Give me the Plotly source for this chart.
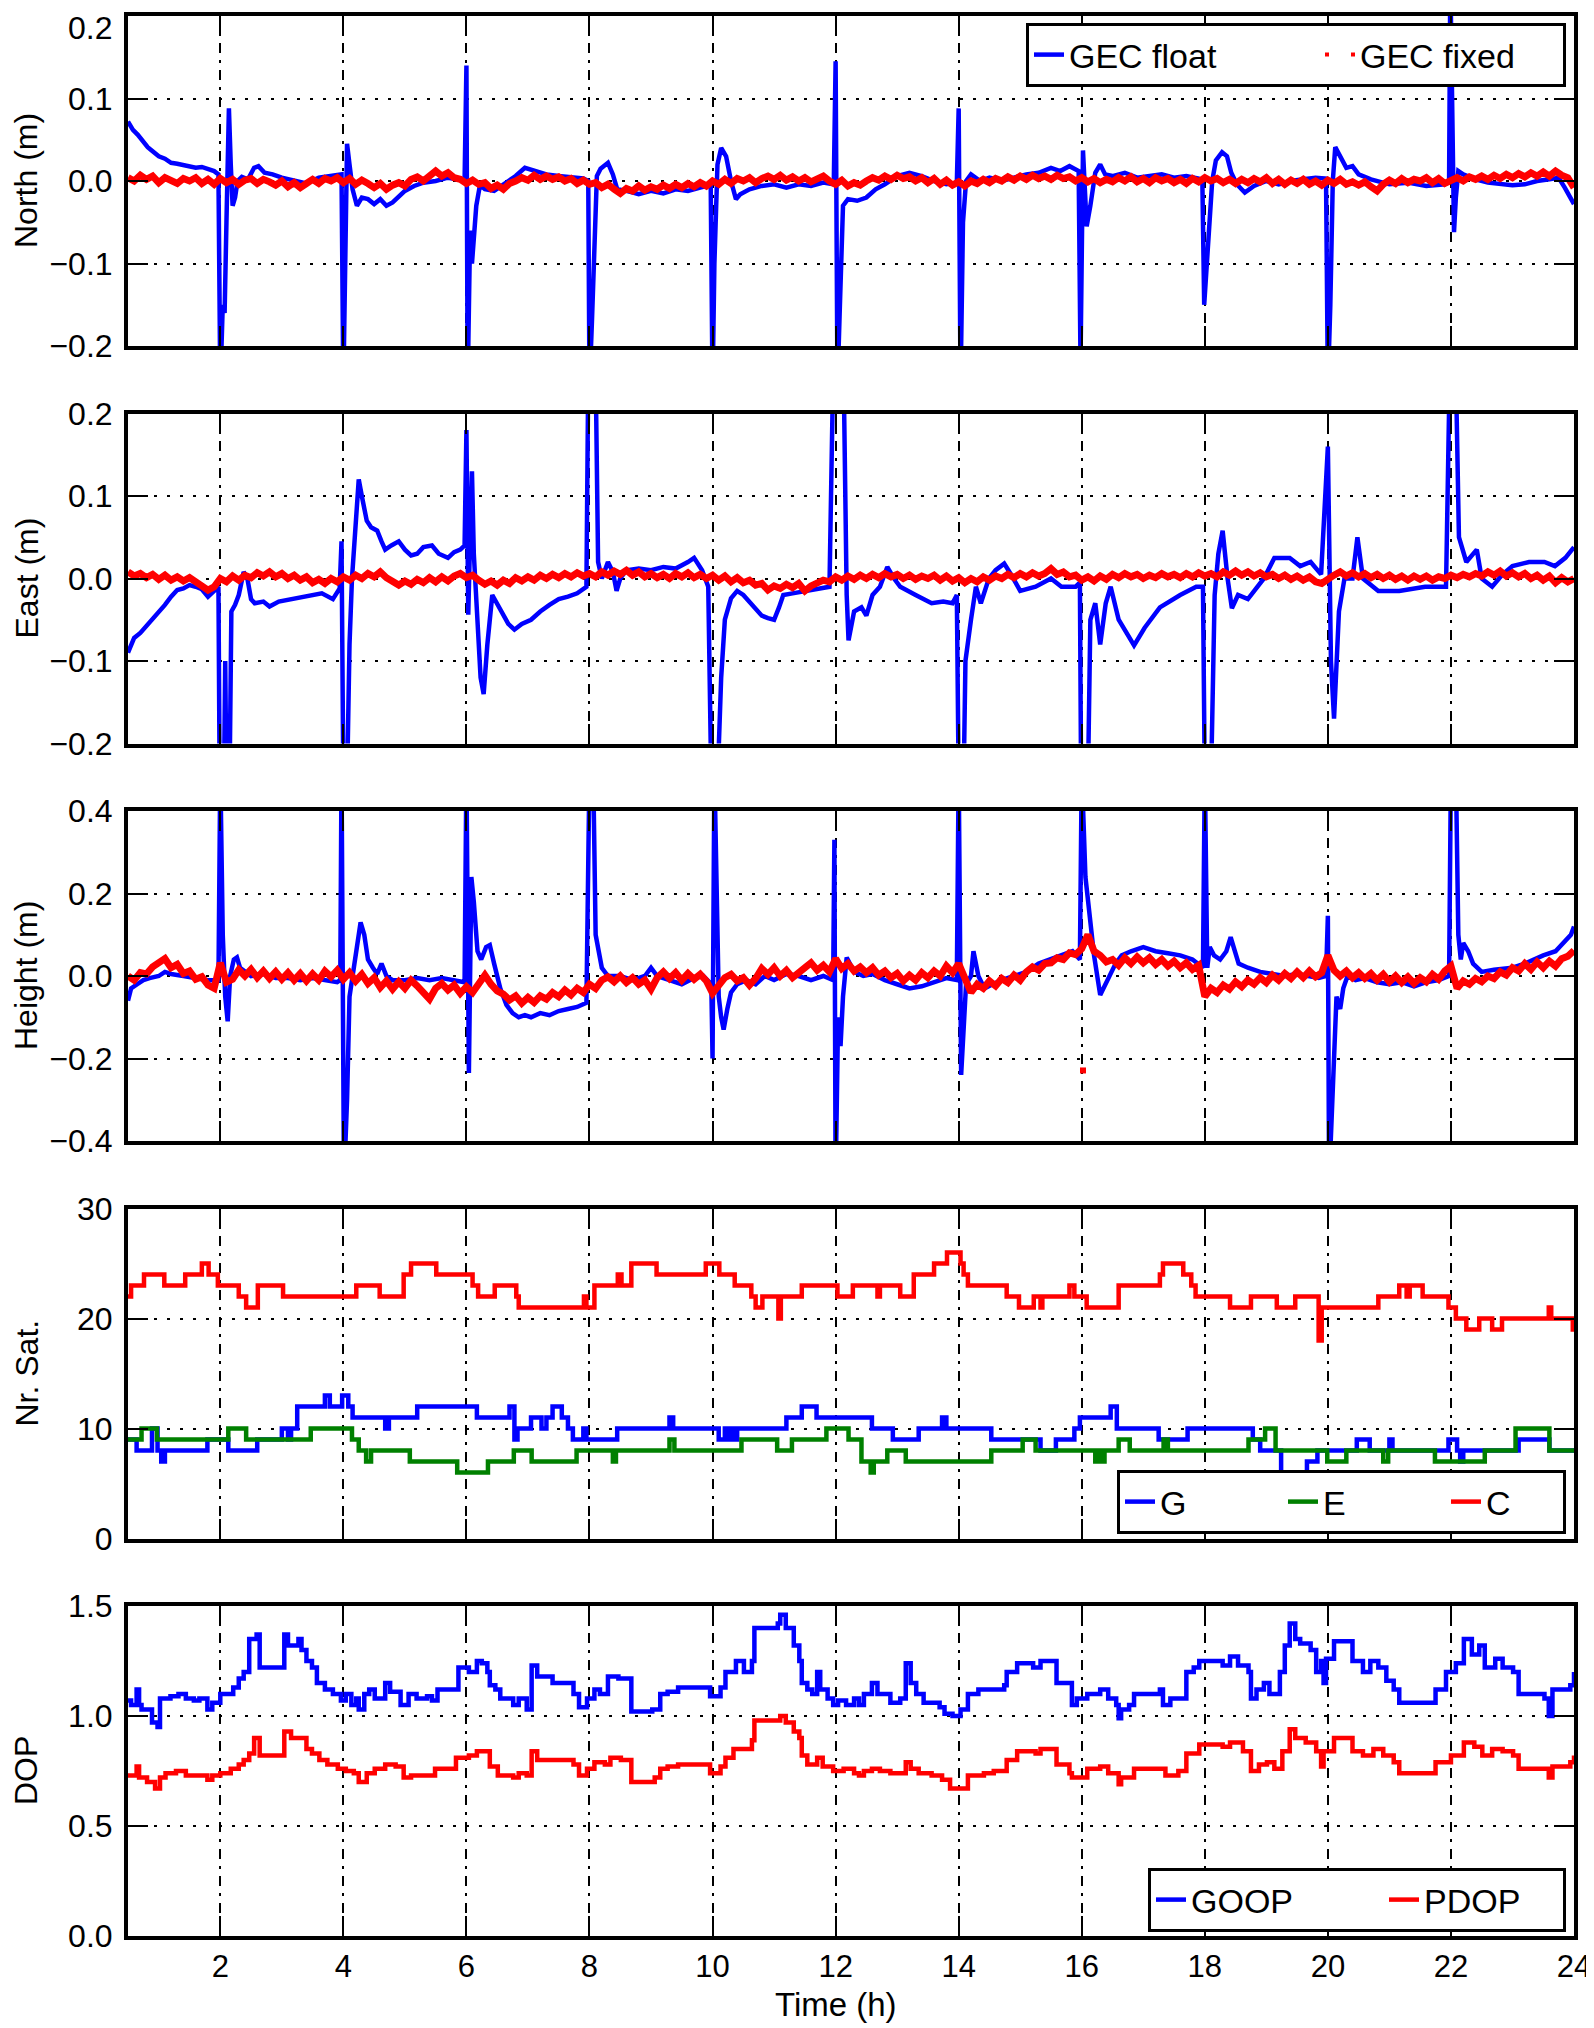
import numpy as np
import plotly.graph_objects as go

FONT = "Liberation Sans, Arial, Helvetica, sans-serif"
# the page body adds an 8 px margin; the figure is sized so that it ends at the window edge
OFF = 8
W, H = 1594 - OFF, 2028 - OFF
ML, MR, MT, MB = 128 - OFF, 20, 16 - OFF, 92

# ---------------- time axis ----------------
X_RANGE = [0.5, 24]
X_TICKS = [2, 4, 6, 8, 10, 12, 14, 16, 18, 20, 22, 24]

# fixed solutions are sampled every 0.1 h from 0.5 h
FIX_T0, FIX_DT, FIX_N = 0.5, 0.1, 236
fix_time = np.round(FIX_T0 + FIX_DT * np.arange(FIX_N), 2)

# ---------------- North (m) ----------------
NORTH_FLOAT = [
 (0.5,0.072),(0.58,0.062),(0.66,0.056),(0.74,0.048),(0.82,0.041),(0.9,0.036),(1.0,0.03),(1.1,0.027),(1.2,0.022),(1.3,0.021),(1.4,0.019),(1.5,0.018),(1.6,0.016),(1.7,0.017),(1.8,0.014),(1.9,0.012),(1.97,0.008),
 (2.0,-0.25),(2.04,-0.15),(2.07,-0.16),(2.1,-0.05),(2.14,0.088),(2.17,0.02),(2.2,-0.03),(2.24,-0.02),(2.28,0.0),(2.35,0.005),(2.45,0.002),(2.55,0.016),(2.62,0.018),(2.72,0.01),(2.85,0.008),(3.0,0.004),(3.2,0.0),(3.4,-0.003),(3.6,0.004),(3.8,0.006),(3.97,0.008),
 (4.0,-0.25),(4.03,-0.1),(4.06,0.045),(4.1,0.02),(4.15,-0.01),(4.22,-0.03),(4.3,-0.02),(4.4,-0.022),(4.5,-0.028),(4.6,-0.022),(4.7,-0.03),(4.8,-0.026),(4.9,-0.018),(5.0,-0.012),(5.15,-0.006),(5.3,-0.002),(5.5,0.0),(5.7,0.004),(5.85,0.002),(5.97,0.0),
 (6.0,0.14),(6.02,-0.25),(6.06,-0.06),(6.09,-0.1),(6.12,-0.07),(6.16,-0.03),(6.22,-0.005),(6.3,-0.01),(6.45,-0.012),(6.6,-0.004),(6.8,0.006),(6.95,0.016),(7.1,0.012),(7.3,0.008),(7.5,0.006),(7.7,0.004),(7.9,0.003),(7.98,0.0),
 (8.0,-0.25),(8.04,-0.17),(8.08,-0.06),(8.12,0.006),(8.18,0.015),(8.3,0.022),(8.38,0.008),(8.45,-0.01),(8.6,-0.012),(8.8,-0.016),(9.0,-0.012),(9.2,-0.015),(9.4,-0.01),(9.6,-0.012),(9.8,-0.008),(9.97,-0.005),
 (10.0,-0.25),(10.03,-0.1),(10.08,0.02),(10.14,0.04),(10.22,0.03),(10.3,0.0),(10.38,-0.022),(10.45,-0.016),(10.6,-0.01),(10.8,-0.006),(11.0,-0.004),(11.2,-0.008),(11.4,-0.004),(11.6,-0.006),(11.8,-0.002),(11.97,-0.004),
 (12.0,0.145),(12.03,-0.25),(12.07,-0.15),(12.12,-0.03),(12.2,-0.022),(12.35,-0.024),(12.5,-0.02),(12.65,-0.01),(12.8,-0.004),(13.0,0.006),(13.2,0.01),(13.4,0.006),(13.6,0.0),(13.8,-0.004),(13.97,-0.002),
 (14.0,0.088),(14.03,-0.25),(14.07,-0.05),(14.12,0.0),(14.2,0.008),(14.35,0.0),(14.5,0.004),(14.7,0.0),(14.9,0.004),(15.1,0.008),(15.3,0.01),(15.5,0.016),(15.65,0.012),(15.8,0.018),(15.95,0.012),
 (15.98,-0.22),(16.02,0.037),(16.05,-0.02),(16.08,-0.055),(16.14,-0.03),(16.22,0.01),(16.3,0.02),(16.38,0.008),(16.5,0.006),(16.7,0.01),(16.9,0.004),(17.1,0.006),(17.3,0.008),(17.5,0.004),(17.7,0.006),(17.9,0.003),(17.96,0.0),
 (17.99,-0.15),(18.03,-0.1),(18.07,-0.04),(18.12,0.0),(18.18,0.025),(18.28,0.035),(18.36,0.03),(18.43,0.01),(18.52,-0.004),(18.65,-0.014),(18.8,-0.006),(19.0,0.0),(19.2,-0.004),(19.4,0.0),(19.6,0.002),(19.8,0.004),(19.97,0.003),
 (20.0,-0.25),(20.04,-0.15),(20.08,0.0),(20.12,0.041),(20.2,0.03),(20.3,0.016),(20.4,0.018),(20.5,0.008),(20.7,0.002),(21.0,-0.004),(21.3,-0.002),(21.6,-0.006),(21.9,-0.004),(21.97,0.0),
 (21.99,0.25),(22.02,0.1),(22.05,-0.062),(22.08,-0.02),(22.12,0.012),(22.2,0.008),(22.4,0.002),(22.6,-0.002),(22.8,-0.004),(23.0,-0.005),(23.2,-0.004),(23.4,0.0),(23.6,0.002),(23.75,0.004),(23.85,-0.008),(23.95,-0.02),(24.0,-0.028),
]
NORTH_FIXED = [
 0.004, 0.000, 0.007, 0.002, 0.006, -0.002, 0.004, 0.001, -0.003, 0.003,
 0.000, 0.004, -0.003, 0.002, -0.004, 0.003, -0.002, 0.002, -0.004, 0.001,
 0.003, -0.003, 0.002, -0.001, -0.005, 0.000, -0.007, -0.002, -0.008, -0.003,
 0.002, -0.003, 0.003, 0.000, 0.004, -0.002, 0.003, -0.004, 0.001, -0.003,
 -0.008, -0.003, -0.010, -0.005, -0.002, -0.006, 0.002, 0.005, 0.000, 0.006,
 0.012, 0.006, 0.010, 0.004, 0.002, -0.003, 0.001, -0.004, -0.002, -0.009,
 -0.005, -0.010, -0.003, 0.000, 0.004, 0.001, 0.007, 0.002, 0.006, 0.002,
 0.005, 0.000, 0.003, -0.003, 0.001, -0.004, -0.002, -0.008, -0.004, -0.010,
 -0.015, -0.009, -0.012, -0.006, -0.011, -0.007, -0.010, -0.005, -0.009, -0.004,
 -0.008, -0.003, -0.007, -0.002, -0.006, 0.000, -0.004, 0.002, -0.003, 0.003,
 0.000, 0.004, -0.002, 0.003, 0.006, 0.002, 0.007, 0.001, 0.005, 0.000,
 0.004, -0.001, 0.003, 0.006, 0.000, -0.004, 0.001, -0.006, -0.002, -0.005,
 0.000, 0.004, 0.001, 0.006, 0.002, 0.007, 0.003, 0.005, 0.000, 0.004,
 -0.002, 0.003, -0.004, 0.001, -0.005, -0.001, -0.006, 0.000, -0.003, 0.002,
 -0.002, 0.003, 0.000, 0.005, 0.001, 0.006, 0.002, 0.007, 0.003, 0.006,
 0.002, 0.007, 0.003, 0.005, 0.000, 0.004, -0.001, 0.003, -0.002, 0.002,
 -0.001, 0.004, 0.000, 0.005, -0.001, 0.003, -0.002, 0.004, 0.000, 0.003,
 -0.002, 0.002, -0.003, 0.003, -0.001, 0.004, 0.000, 0.003, -0.002, 0.002,
 -0.003, 0.002, -0.002, 0.003, -0.001, 0.004, -0.003, 0.002, -0.004, 0.001,
 -0.003, 0.002, -0.004, 0.000, -0.005, 0.001, -0.003, 0.002, -0.004, -0.001,
 -0.005, -0.001, -0.007, -0.012, -0.004, 0.001, -0.003, 0.003, -0.002, 0.002,
 0.000, 0.004, -0.002, 0.003, -0.003, 0.001, 0.004, 0.000, 0.005, 0.002,
 0.006, 0.002, 0.007, 0.003, 0.008, 0.004, 0.009, 0.005, 0.010, 0.006,
 0.011, 0.006, 0.012, 0.007, 0.004, -0.008,
]

# ---------------- East (m) ----------------
EAST_FLOAT = [
 (0.5,-0.09),(0.6,-0.072),(0.7,-0.066),(0.8,-0.058),(0.9,-0.05),(1.0,-0.042),(1.1,-0.032),(1.2,-0.022),(1.3,-0.014),(1.4,-0.012),(1.5,-0.008),(1.6,-0.01),(1.7,-0.013),(1.8,-0.022),(1.9,-0.015),(1.97,-0.01),
 (1.99,-0.25),(2.06,-0.25),(2.08,-0.1),(2.1,-0.25),(2.15,-0.25),(2.18,-0.04),(2.24,-0.032),(2.3,-0.02),(2.38,0.008),(2.44,0.0),(2.5,-0.025),(2.56,-0.03),(2.7,-0.028),(2.8,-0.034),(2.95,-0.028),(3.15,-0.025),(3.3,-0.022),(3.5,-0.02),(3.65,-0.018),(3.83,-0.025),(3.94,-0.012),
 (3.97,0.045),(4.0,-0.25),(4.06,-0.25),(4.1,-0.08),(4.14,0.0),(4.2,0.06),(4.25,0.12),(4.3,0.1),(4.38,0.07),(4.45,0.062),(4.55,0.058),(4.62,0.045),(4.68,0.035),(4.78,0.04),(4.9,0.045),(5.0,0.035),(5.1,0.028),(5.2,0.03),(5.3,0.038),(5.44,0.04),(5.55,0.03),(5.7,0.025),(5.8,0.032),(5.9,0.035),(5.97,0.04),
 (6.0,0.18),(6.03,-0.044),(6.06,0.05),(6.09,0.13),(6.12,0.03),(6.18,-0.06),(6.23,-0.12),(6.28,-0.14),(6.34,-0.08),(6.42,-0.02),(6.5,-0.03),(6.56,-0.04),(6.68,-0.055),(6.78,-0.062),(6.9,-0.055),(7.05,-0.05),(7.2,-0.04),(7.35,-0.032),(7.5,-0.025),(7.65,-0.022),(7.8,-0.018),(7.95,-0.01),
 (7.98,0.25),(8.1,0.25),(8.14,0.02),(8.2,0.0),(8.3,0.02),(8.38,0.008),(8.44,-0.015),(8.5,0.0),(8.6,0.01),(8.8,0.012),(9.0,0.01),(9.2,0.014),(9.4,0.012),(9.6,0.02),(9.7,0.025),(9.83,0.01),(9.93,-0.01),
 (9.98,-0.25),(10.08,-0.25),(10.14,-0.12),(10.2,-0.05),(10.3,-0.024),(10.4,-0.015),(10.5,-0.02),(10.6,-0.028),(10.7,-0.036),(10.8,-0.045),(10.9,-0.048),(11.0,-0.05),(11.08,-0.035),(11.15,-0.02),(11.3,-0.018),(11.5,-0.015),(11.7,-0.012),(11.9,-0.01),
 (11.96,0.25),(12.13,0.25),(12.18,-0.02),(12.21,-0.075),(12.3,-0.04),(12.42,-0.035),(12.5,-0.045),(12.6,-0.02),(12.72,-0.01),(12.84,0.014),(12.95,0.0),(13.05,-0.01),(13.3,-0.02),(13.56,-0.03),(13.75,-0.028),(13.9,-0.03),(13.97,-0.02),
 (14.0,-0.25),(14.08,-0.25),(14.11,-0.1),(14.2,-0.05),(14.28,-0.01),(14.36,-0.03),(14.49,0.0),(14.6,0.01),(14.74,0.018),(14.85,0.005),(15.0,-0.015),(15.25,-0.01),(15.5,0.0),(15.67,-0.01),(15.9,-0.01),(15.97,-0.005),
 (15.99,-0.25),(16.1,-0.25),(16.14,-0.05),(16.22,-0.03),(16.3,-0.08),(16.39,-0.03),(16.47,-0.01),(16.6,-0.05),(16.72,-0.065),(16.85,-0.081),(17.02,-0.06),(17.27,-0.035),(17.6,-0.02),(17.86,-0.01),(17.97,-0.01),
 (18.0,-0.25),(18.1,-0.25),(18.16,-0.02),(18.22,0.03),(18.29,0.058),(18.37,0.0),(18.44,-0.036),(18.54,-0.02),(18.7,-0.025),(18.96,0.0),(19.13,0.025),(19.38,0.025),(19.55,0.015),(19.72,0.02),(19.89,0.005),
 (20.0,0.16),(20.05,-0.1),(20.1,-0.17),(20.18,-0.04),(20.27,0.0),(20.4,0.0),(20.48,0.05),(20.57,0.0),(20.82,-0.015),(21.16,-0.015),(21.58,-0.01),(21.92,-0.01),
 (21.98,0.25),(22.08,0.25),(22.13,0.05),(22.25,0.02),(22.42,0.035),(22.5,0.0),(22.67,-0.01),(22.84,0.005),(23.0,0.015),(23.27,0.02),(23.52,0.02),(23.69,0.015),(23.86,0.025),(24.0,0.038),
]
EAST_FIXED = [
 0.008, 0.003, 0.006, 0.001, 0.005, -0.001, 0.004, -0.002, 0.002, -0.003,
 0.001, -0.004, -0.008, -0.014, -0.010, 0.000, -0.004, 0.003, -0.002, 0.004,
 0.001, 0.007, 0.003, 0.008, 0.002, 0.006, 0.000, 0.004, -0.002, 0.002,
 -0.005, -0.001, -0.006, 0.000, -0.004, 0.002, -0.002, 0.004, 0.000, 0.006,
 0.002, 0.008, 0.001, -0.004, -0.008, -0.003, -0.007, -0.001, -0.005, 0.001,
 -0.004, 0.002, -0.003, 0.003, 0.006, 0.001, 0.004, -0.002, -0.007, -0.003,
 -0.008, -0.002, -0.006, 0.001, -0.003, 0.002, -0.002, 0.004, 0.000, 0.005,
 0.001, 0.006, 0.002, 0.007, 0.003, 0.006, 0.002, 0.008, 0.004, 0.009,
 0.005, 0.010, 0.004, 0.008, 0.002, 0.006, 0.001, 0.005, 0.000, 0.006,
 0.002, 0.007, 0.001, 0.005, 0.000, 0.004, -0.002, 0.003, -0.004, 0.001,
 -0.005, -0.002, -0.008, -0.006, -0.014, -0.009, -0.012, -0.007, -0.011, -0.006,
 -0.015, -0.009, -0.006, -0.002, -0.004, 0.002, -0.002, 0.003, -0.001, 0.004,
 0.000, 0.005, 0.001, 0.006, 0.002, 0.005, 0.000, 0.004, -0.001, 0.003,
 0.000, 0.004, -0.002, 0.003, -0.003, 0.001, -0.005, 0.000, -0.004, 0.002,
 -0.002, 0.003, 0.000, 0.005, 0.001, 0.006, 0.002, 0.007, 0.003, 0.006,
 0.012, 0.005, 0.008, 0.002, 0.004, -0.002, 0.002, -0.003, 0.003, -0.001,
 0.005, 0.001, 0.006, 0.002, 0.005, 0.000, 0.004, 0.001, 0.006, 0.002,
 0.005, 0.001, 0.006, 0.002, 0.007, 0.003, 0.006, 0.002, 0.008, 0.004,
 0.009, 0.004, 0.008, 0.003, 0.007, 0.002, 0.005, 0.000, 0.004, -0.001,
 0.003, -0.002, 0.002, -0.004, -0.006, 0.000, 0.004, 0.008, 0.003, 0.007,
 0.002, 0.006, 0.001, 0.005, 0.000, 0.004, -0.001, 0.003, -0.002, 0.003,
 -0.001, 0.003, -0.002, 0.002, 0.000, 0.004, 0.001, 0.005, 0.002, 0.006,
 0.003, 0.008, 0.004, 0.009, 0.003, 0.007, 0.002, 0.006, 0.000, 0.004,
 -0.002, 0.003, -0.005, 0.001, -0.004, 0.000,
]

# ---------------- Height (m) ----------------
HEIGHT_FLOAT = [
 (0.5,-0.06),(0.55,-0.03),(0.65,-0.02),(0.75,-0.01),(0.85,-0.005),(1.0,0.0),(1.1,0.01),(1.2,0.005),(1.4,0.0),(1.6,-0.005),(1.8,-0.01),(1.97,-0.01),
 (2.0,0.5),(2.04,0.1),(2.08,-0.05),(2.12,-0.11),(2.16,0.0),(2.22,0.04),(2.27,0.045),(2.32,0.02),(2.4,0.01),(2.5,0.0),(2.7,0.005),(2.9,-0.005),(3.1,-0.005),(3.3,-0.01),(3.5,-0.005),(3.7,-0.01),(3.9,-0.015),(3.95,-0.01),
 (3.97,0.5),(4.01,-0.5),(4.06,-0.3),(4.1,-0.05),(4.15,0.0),(4.22,0.08),(4.28,0.13),(4.34,0.1),(4.4,0.04),(4.48,0.02),(4.55,0.005),(4.62,0.03),(4.7,0.0),(4.8,-0.01),(5.0,-0.01),(5.2,-0.005),(5.4,-0.01),(5.6,-0.005),(5.8,-0.01),(5.97,-0.015),
 (6.0,0.5),(6.04,-0.235),(6.08,0.24),(6.12,0.18),(6.18,0.06),(6.24,0.04),(6.32,0.07),(6.38,0.075),(6.45,0.03),(6.55,-0.03),(6.65,-0.07),(6.75,-0.09),(6.85,-0.1),(6.95,-0.095),(7.05,-0.1),(7.2,-0.09),(7.35,-0.095),(7.5,-0.085),(7.65,-0.08),(7.8,-0.075),(7.95,-0.065),
 (8.0,0.5),(8.06,0.5),(8.1,0.1),(8.15,0.06),(8.2,0.02),(8.3,0.0),(8.5,0.0),(8.7,-0.01),(8.9,0.0),(9.0,0.02),(9.1,0.0),(9.3,-0.01),(9.5,-0.02),(9.7,-0.005),(9.85,0.0),(9.98,-0.02),
 (10.0,-0.2),(10.03,0.5),(10.06,0.23),(10.1,-0.05),(10.14,-0.1),(10.18,-0.13),(10.24,-0.08),(10.3,-0.04),(10.4,-0.02),(10.55,-0.01),(10.7,-0.02),(10.85,0.0),(11.0,-0.01),(11.2,0.005),(11.4,0.0),(11.6,-0.01),(11.8,0.0),(11.96,-0.01),
 (11.98,0.33),(12.0,-0.5),(12.04,-0.1),(12.08,-0.17),(12.12,-0.05),(12.18,0.045),(12.3,0.01),(12.45,0.0),(12.6,0.005),(12.8,-0.01),(13.0,-0.02),(13.2,-0.03),(13.4,-0.025),(13.6,-0.015),(13.8,-0.005),(13.97,-0.01),
 (14.0,0.5),(14.04,-0.24),(14.08,-0.15),(14.12,-0.02),(14.2,0.0),(14.24,0.06),(14.32,0.0),(14.42,-0.03),(14.55,-0.02),(14.7,-0.01),(14.9,0.0),(15.1,0.01),(15.3,0.03),(15.5,0.04),(15.7,0.05),(15.85,0.06),(15.97,0.04),
 (16.0,0.5),(16.06,0.24),(16.12,0.15),(16.2,0.05),(16.3,-0.046),(16.38,-0.02),(16.45,0.0),(16.55,0.03),(16.65,0.05),(16.8,0.06),(17.0,0.07),(17.2,0.06),(17.4,0.055),(17.6,0.05),(17.8,0.04),(17.97,0.02),
 (18.0,0.5),(18.04,0.02),(18.08,0.07),(18.15,0.05),(18.25,0.04),(18.35,0.06),(18.42,0.094),(18.48,0.06),(18.55,0.03),(18.7,0.02),(18.9,0.01),(19.1,0.005),(19.3,0.0),(19.5,0.005),(19.7,0.0),(19.85,-0.005),(19.97,0.0),
 (20.0,0.146),(20.02,-0.5),(20.1,-0.2),(20.14,-0.05),(20.2,-0.08),(20.25,-0.03),(20.32,0.0),(20.45,-0.01),(20.6,-0.005),(20.8,-0.015),(21.0,-0.02),(21.2,-0.015),(21.4,-0.025),(21.6,-0.015),(21.8,-0.01),(21.97,0.0),
 (22.0,0.5),(22.08,0.5),(22.12,0.1),(22.16,0.04),(22.2,0.08),(22.28,0.06),(22.36,0.03),(22.5,0.01),(22.7,0.015),(23.0,0.02),(23.2,0.03),(23.5,0.05),(23.7,0.06),(23.9,0.09),(23.95,0.1),(24.0,0.12),
]
HEIGHT_FIXED = [
 0.000, -0.010, 0.008, 0.005, 0.022, 0.030, 0.042, 0.020, 0.028, 0.006,
 0.012, -0.008, -0.002, -0.022, -0.030, 0.032, -0.015, -0.008, 0.015, 0.000,
 0.016, -0.004, 0.012, -0.006, 0.010, -0.008, 0.008, -0.010, 0.006, -0.012,
 0.005, -0.010, 0.012, -0.002, 0.014, -0.008, 0.008, -0.012, 0.004, -0.018,
 -0.004, -0.028, -0.012, -0.032, -0.014, -0.030, -0.010, -0.024, -0.040, -0.056,
 -0.030, -0.018, -0.034, -0.022, -0.042, -0.026, -0.040, -0.018, 0.002, -0.020,
 -0.036, -0.044, -0.058, -0.048, -0.066, -0.052, -0.064, -0.048, -0.056, -0.040,
 -0.050, -0.034, -0.046, -0.030, -0.040, -0.020, -0.030, -0.010, -0.002, -0.014,
 0.000, -0.016, -0.004, -0.020, -0.010, -0.032, -0.004, 0.010, -0.006, 0.008,
 -0.010, 0.006, -0.008, 0.004, -0.012, -0.042, -0.020, -0.004, 0.004, -0.012,
 -0.004, -0.022, -0.006, 0.018, 0.004, 0.020, 0.000, 0.014, -0.004, 0.010,
 0.020, 0.032, 0.014, 0.026, 0.010, 0.042, 0.018, 0.030, 0.012, 0.022,
 0.008, 0.020, 0.002, 0.012, -0.004, 0.006, -0.012, 0.002, -0.010, 0.008,
 -0.004, 0.012, 0.000, 0.024, 0.008, 0.030, -0.010, -0.040, -0.020, -0.030,
 -0.012, -0.024, -0.006, -0.016, 0.002, -0.010, 0.010, 0.022, 0.014, 0.030,
 0.032, 0.044, 0.040, 0.056, 0.052, 0.066, 0.100, 0.060, 0.050, 0.034,
 0.040, 0.026, 0.044, 0.030, 0.046, 0.032, 0.044, 0.028, 0.040, 0.024,
 0.036, 0.020, 0.032, 0.016, 0.026, -0.050, -0.030, -0.040, -0.022, -0.032,
 -0.014, -0.026, -0.010, -0.020, -0.004, -0.016, 0.002, -0.010, 0.006, -0.006,
 0.010, -0.004, 0.012, -0.002, 0.008, 0.050, 0.014, 0.000, 0.012, -0.004,
 0.008, -0.006, 0.006, -0.010, 0.004, -0.014, 0.000, -0.016, -0.002, -0.018,
 -0.004, -0.014, 0.004, -0.008, 0.012, 0.024, -0.030, -0.012, -0.020, -0.006,
 -0.014, 0.000, -0.006, 0.010, 0.002, 0.020, 0.012, 0.030, 0.016, 0.034,
 0.020, 0.036, 0.024, 0.042, 0.048, 0.062,
]
HEIGHT_FIXED_OUTLIER_T = [16.02]
HEIGHT_FIXED_OUTLIER_V = [-0.229]

# ---------------- Nr. Sat. (steps: time, count) ----------------
SAT_G = [(0.5,9),(0.64,8),(0.89,10),(0.98,8),(1.04,7),(1.1,8),(1.79,9),(2.13,8),(2.6,9),(3.0,10),(3.1,9),(3.15,10),(3.25,12),(3.7,13),(3.78,12),(3.98,13),(4.08,12),(4.15,11),(4.68,10),(4.74,11),(5.2,12),(6.17,11),(6.7,12),(6.78,9),(6.83,10),(7.05,11),(7.22,10),(7.3,11),(7.4,12),(7.55,11),(7.65,10),(7.73,9),(7.9,10),(7.95,9),(8.45,10),(9.3,11),(9.36,10),(10.1,9),(10.2,10),(10.25,9),(10.3,10),(10.35,9),(10.4,10),(11.2,11),(11.45,12),(11.69,11),(12.59,10),(12.93,9),(13.35,10),(13.73,11),(13.8,10),(14.53,9),(15.33,8),(15.58,9),(15.88,10),(15.97,11),(16.47,12),(16.57,10),(17.25,9),(17.72,10),(18.78,9),(18.9,8),(19.24,6),(19.66,7),(19.83,8),(20.47,9),(20.68,8),(21.0,9),(21.05,8),(21.96,9),(22.1,8),(22.15,7),(22.2,8),(23.1,9),(23.6,8),(24.0,8)]
SAT_E = [(0.5,9),(0.72,10),(0.97,9),(2.13,10),(2.42,9),(3.47,10),(4.14,9),(4.25,8),(4.37,7),(4.45,8),(5.08,7),(5.85,6),(6.35,7),(6.77,8),(7.06,7),(7.79,8),(8.38,7),(8.43,8),(9.3,9),(9.38,8),(10.47,9),(11.05,8),(11.29,9),(11.85,10),(12.21,9),(12.42,7),(12.57,6),(12.62,7),(12.84,8),(13.14,7),(14.53,8),(15.04,9),(15.25,8),(16.22,7),(16.26,8),(16.33,7),(16.37,8),(16.6,9),(16.78,8),(17.33,9),(17.4,8),(18.71,9),(18.98,10),(19.15,8),(19.99,7),(20.3,8),(20.9,7),(20.98,8),(21.74,7),(22.55,8),(23.05,10),(23.6,8),(24.0,8)]
SAT_C = [(0.5,22),(0.55,23),(0.76,24),(1.09,23),(1.43,24),(1.7,25),(1.81,24),(1.96,23),(2.3,22),(2.42,21),(2.61,23),(3.02,22),(4.21,23),(4.59,22),(4.98,24),(5.1,25),(5.51,24),(6.1,23),(6.19,22),(6.46,23),(6.81,22),(6.85,21),(7.91,22),(7.95,21),(8.08,23),(8.46,24),(8.52,23),(8.68,25),(9.09,24),(9.89,25),(10.11,24),(10.36,23),(10.63,22),(10.7,21),(10.81,22),(11.07,20),(11.11,22),(11.45,23),(12.03,22),(12.28,23),(12.68,22),(12.72,23),(13.05,22),(13.27,24),(13.6,25),(13.81,26),(14.03,25),(14.08,24),(14.15,23),(14.78,22),(14.98,21),(15.22,22),(15.33,21),(15.36,22),(15.8,23),(15.88,22),(16.08,21),(16.6,23),(17.27,24),(17.32,25),(17.65,24),(17.78,23),(17.85,22),(18.41,21),(18.75,22),(19.17,21),(19.47,22),(19.85,18),(19.9,21),(20.82,22),(21.16,23),(21.28,22),(21.33,23),(21.54,22),(21.96,21),(22.08,20),(22.25,19),(22.46,20),(22.67,19),(22.83,20),(23.59,21),(23.63,20),(23.98,19),(24.0,19)]

# ---------------- DOP (steps: time, value) ----------------
GDOP = [(0.5,1.07),(0.55,1.05),(0.64,1.12),(0.68,1.05),(0.72,1.03),(0.89,0.97),(0.98,0.95),(1.02,1.08),(1.19,1.09),(1.32,1.10),(1.44,1.08),(1.57,1.07),(1.66,1.08),(1.79,1.03),(1.87,1.06),(2.0,1.10),(2.21,1.13),(2.3,1.17),(2.38,1.20),(2.47,1.35),(2.59,1.37),(2.64,1.22),(3.04,1.37),(3.1,1.32),(3.27,1.35),(3.32,1.30),(3.4,1.25),(3.49,1.22),(3.57,1.15),(3.7,1.12),(3.83,1.10),(3.96,1.07),(4.04,1.10),(4.13,1.05),(4.21,1.08),(4.25,1.03),(4.34,1.10),(4.42,1.12),(4.51,1.08),(4.68,1.15),(4.76,1.11),(4.93,1.05),(5.06,1.10),(5.19,1.08),(5.36,1.09),(5.44,1.07),(5.53,1.12),(5.87,1.22),(6.04,1.20),(6.17,1.25),(6.25,1.24),(6.34,1.20),(6.38,1.14),(6.47,1.12),(6.55,1.08),(6.76,1.05),(6.85,1.08),(6.98,1.03),(7.06,1.23),(7.15,1.18),(7.4,1.15),(7.74,1.10),(7.83,1.04),(7.96,1.08),(8.08,1.12),(8.17,1.10),(8.3,1.18),(8.47,1.17),(8.68,1.02),(9.02,1.03),(9.15,1.10),(9.27,1.11),(9.44,1.13),(9.96,1.09),(10.13,1.13),(10.21,1.20),(10.38,1.25),(10.51,1.20),(10.64,1.25),(10.68,1.40),(11.06,1.42),(11.1,1.46),(11.19,1.40),(11.32,1.32),(11.41,1.25),(11.45,1.15),(11.54,1.12),(11.62,1.10),(11.7,1.20),(11.75,1.12),(11.87,1.08),(11.96,1.05),(12.04,1.07),(12.17,1.05),(12.3,1.08),(12.38,1.05),(12.46,1.10),(12.59,1.15),(12.68,1.10),(12.89,1.06),(13.05,1.08),(13.14,1.24),(13.22,1.15),(13.31,1.10),(13.43,1.06),(13.69,1.04),(13.77,1.01),(13.9,1.00),(14.03,1.03),(14.15,1.10),(14.32,1.12),(14.74,1.14),(14.78,1.20),(14.95,1.24),(15.21,1.22),(15.33,1.25),(15.59,1.15),(15.84,1.05),(15.92,1.08),(16.09,1.10),(16.3,1.12),(16.43,1.08),(16.56,1.05),(16.6,0.99),(16.64,1.03),(16.77,1.05),(16.85,1.10),(17.27,1.12),(17.32,1.05),(17.44,1.08),(17.7,1.20),(17.82,1.22),(17.91,1.25),(18.29,1.23),(18.41,1.27),(18.54,1.23),(18.71,1.20),(18.75,1.08),(18.84,1.12),(18.96,1.15),(19.05,1.10),(19.22,1.20),(19.3,1.32),(19.38,1.42),(19.47,1.35),(19.55,1.33),(19.72,1.30),(19.81,1.20),(19.89,1.25),(19.93,1.15),(19.97,1.26),(20.1,1.34),(20.4,1.25),(20.57,1.20),(20.69,1.25),(20.82,1.22),(20.95,1.16),(21.07,1.12),(21.16,1.06),(21.75,1.12),(21.92,1.20),(22.08,1.24),(22.21,1.35),(22.34,1.28),(22.46,1.32),(22.55,1.22),(22.72,1.26),(22.84,1.22),(23.01,1.20),(23.1,1.10),(23.52,1.08),(23.59,1.00),(23.65,1.12),(23.94,1.14),(24.0,1.20)]
PDOP = [(0.5,0.73),(0.64,0.77),(0.68,0.72),(0.81,0.70),(0.94,0.67),(1.02,0.72),(1.11,0.74),(1.28,0.75),(1.44,0.73),(1.79,0.71),(1.87,0.73),(2.0,0.74),(2.17,0.76),(2.3,0.78),(2.38,0.80),(2.47,0.83),(2.55,0.90),(2.64,0.82),(3.04,0.93),(3.15,0.90),(3.4,0.85),(3.49,0.83),(3.61,0.80),(3.74,0.78),(3.91,0.76),(4.04,0.75),(4.17,0.74),(4.25,0.70),(4.38,0.74),(4.51,0.76),(4.68,0.78),(4.85,0.77),(4.98,0.72),(5.1,0.73),(5.49,0.76),(5.83,0.81),(6.04,0.82),(6.17,0.84),(6.38,0.77),(6.51,0.73),(6.76,0.72),(6.85,0.74),(6.98,0.73),(7.06,0.84),(7.15,0.80),(7.74,0.78),(7.83,0.73),(7.96,0.76),(8.08,0.79),(8.25,0.78),(8.34,0.81),(8.51,0.80),(8.68,0.70),(9.06,0.72),(9.15,0.76),(9.27,0.77),(9.44,0.78),(9.96,0.74),(10.13,0.77),(10.21,0.81),(10.34,0.85),(10.64,0.89),(10.68,0.98),(11.1,1.00),(11.19,0.97),(11.32,0.93),(11.41,0.90),(11.45,0.82),(11.54,0.78),(11.7,0.81),(11.79,0.77),(11.96,0.75),(12.13,0.76),(12.3,0.74),(12.38,0.73),(12.46,0.75),(12.59,0.76),(12.72,0.75),(12.89,0.74),(13.14,0.79),(13.22,0.76),(13.35,0.74),(13.56,0.73),(13.73,0.71),(13.86,0.67),(14.15,0.73),(14.41,0.74),(14.57,0.75),(14.78,0.80),(14.95,0.84),(15.25,0.83),(15.33,0.85),(15.59,0.78),(15.8,0.74),(15.84,0.72),(16.09,0.76),(16.3,0.77),(16.43,0.74),(16.6,0.69),(16.64,0.72),(16.85,0.76),(17.27,0.76),(17.36,0.73),(17.57,0.75),(17.7,0.83),(17.91,0.87),(18.29,0.86),(18.41,0.88),(18.62,0.84),(18.75,0.75),(18.88,0.78),(19.01,0.79),(19.13,0.76),(19.26,0.84),(19.38,0.94),(19.47,0.90),(19.64,0.88),(19.81,0.84),(19.89,0.77),(19.93,0.84),(20.1,0.90),(20.4,0.84),(20.57,0.82),(20.74,0.85),(20.9,0.82),(21.07,0.79),(21.16,0.74),(21.75,0.79),(22.0,0.82),(22.21,0.88),(22.38,0.86),(22.51,0.82),(22.67,0.85),(22.84,0.84),(23.01,0.82),(23.1,0.76),(23.59,0.72),(23.65,0.77),(23.94,0.79),(24.0,0.82)]

# ---------------- panels ----------------
PANELS = [
    dict(title="North (m)", yrange=[-0.2, 0.2], ticks=[-0.2, -0.1, 0.0, 0.1], top_label="0.2", fmt=".1f"),
    dict(title="East (m)", yrange=[-0.2, 0.2], ticks=[-0.2, -0.1, 0.0, 0.1, 0.2], top_label=None, fmt=".1f"),
    dict(title="Height (m)", yrange=[-0.4, 0.4], ticks=[-0.4, -0.2, 0.0, 0.2, 0.4], top_label=None, fmt=".1f"),
    dict(title="Nr. Sat.", yrange=[0, 30], ticks=[0, 10, 20, 30], top_label=None, fmt="d"),
    dict(title="DOP", yrange=[0, 1.5], ticks=[0.0, 0.5, 1.0, 1.5], top_label=None, fmt=".1f"),
]
PANEL_H, PANEL_GAP = 330, 67.5
AREA_H = H - MT - MB
AREA_W = W - ML - MR

BLUE, RED, GREEN = "#0000ff", "#ff0000", "#008000"
TICK_FONT = dict(family=FONT, size=32, color="black")


def split(pairs):
    return [p[0] for p in pairs], [p[1] for p in pairs]


def px_x(ref_px):  # reference pixel -> figure paper fraction (horizontal)
    return (ref_px - OFF - ML) / AREA_W


def px_y(ref_px):  # reference pixel -> figure paper fraction (vertical)
    return (H - MB - (ref_px - OFF)) / AREA_H


fig = go.Figure()


def ax(k):
    return ("x" if k == 1 else f"x{k}"), ("y" if k == 1 else f"y{k}")


# position panels
for k, (fl, fx) in enumerate([(NORTH_FLOAT, NORTH_FIXED), (EAST_FLOAT, EAST_FIXED), (HEIGHT_FLOAT, HEIGHT_FIXED)], start=1):
    xa, ya = ax(k)
    t, v = split(fl)
    fig.add_trace(go.Scatter(x=t, y=v, mode="lines", line=dict(color=BLUE, width=4.5),
                             name="GEC float", showlegend=(k == 1), legend="legend",
                             xaxis=xa, yaxis=ya, legendwidth=246))
    n = min(len(fx), len(fix_time))
    fig.add_trace(go.Scatter(x=fix_time[:n], y=fx[:n], mode="lines", line=dict(color=RED, width=7),
                             name="GEC fixed", showlegend=False, xaxis=xa, yaxis=ya))

fig.add_trace(go.Scatter(x=HEIGHT_FIXED_OUTLIER_T, y=HEIGHT_FIXED_OUTLIER_V, mode="markers",
                         marker=dict(color=RED, size=6, symbol="square"), showlegend=False,
                         xaxis="x3", yaxis="y3"))
# legend sample for the fixed (dotted marker) series
fig.add_trace(go.Scatter(x=[None], y=[None], mode="lines", name="GEC fixed",
                         line=dict(color=RED, width=4, dash="4px,22px"),
                         legend="legend", xaxis="x", yaxis="y", legendwidth=198))

# satellites
for name, data, col, lw in [("G", SAT_G, BLUE, 118), ("E", SAT_E, GREEN, 118), ("C", SAT_C, RED, 72)]:
    t, v = split(data)
    fig.add_trace(go.Scatter(x=t, y=v, mode="lines", line=dict(color=col, width=4.5, shape="hv"),
                             name=name, legend="legend2", xaxis="x4", yaxis="y4", legendwidth=lw))

# DOP
for name, data, col, lw in [("GOOP", GDOP, BLUE, 188), ("PDOP", PDOP, RED, 134)]:
    t, v = split(data)
    fig.add_trace(go.Scatter(x=t, y=v, mode="lines", line=dict(color=col, width=4.5, shape="hv"),
                             name=name, legend="legend3", xaxis="x5", yaxis="y5", legendwidth=lw))

layout = dict(
    width=W, height=H,
    margin=dict(l=ML, r=MR, t=MT, b=MB, autoexpand=False),
    paper_bgcolor="white", plot_bgcolor="white",
    font=dict(family=FONT, size=32, color="black"),
    showlegend=True,
)

annotations = []
for i, p in enumerate(PANELS):
    k = i + 1
    top_px = MT + i * (PANEL_H + PANEL_GAP)
    bot_px = top_px + PANEL_H
    d0 = (H - MB - bot_px) / AREA_H
    d1 = (H - MB - top_px) / AREA_H
    xa, ya = ax(k)
    common = dict(showline=True, linewidth=4, linecolor="black", mirror="ticks",
                  ticks="inside", ticklen=20, tickwidth=2, tickcolor="black",
                  showgrid=True, gridcolor="black", gridwidth=1.6, zeroline=False,
                  automargin=False, ticklabeloverflow="allow")
    layout["xaxis" if k == 1 else f"xaxis{k}"] = dict(
        domain=[0, 1], range=X_RANGE, tickmode="array", tickvals=X_TICKS,
        anchor=ya, showticklabels=(k == 5), griddash="10px,7px,3px,7px",
        ticklabelstandoff=0, tickfont=dict(family=FONT, size=31, color="black"), **common)
    layout["yaxis" if k == 1 else f"yaxis{k}"] = dict(
        domain=[d0, d1], range=p["yrange"], tickmode="array", tickvals=p["ticks"],
        tickformat=p["fmt"], anchor=xa, griddash="3px,10px",
        ticklabelstandoff=5, tickfont=TICK_FONT, **common)
    annotations.append(dict(text=p["title"], xref="paper", yref="paper",
                            x=px_x(26), y=(d0 + d1) / 2,
                            xanchor="center", yanchor="middle", textangle=-90,
                            showarrow=False, font=dict(family=FONT, size=32, color="black")))
    if p["top_label"]:
        # top tick label sits just below the frame corner, as in the reference
        annotations.append(dict(text=p["top_label"], xref="paper", yref="paper",
                                x=px_x(114), y=px_y(28), xanchor="right", yanchor="middle",
                                showarrow=False, font=TICK_FONT))

annotations.append(dict(text="Time (h)", xref="paper", yref="paper",
                        x=px_x(836), y=px_y(2004),
                        xanchor="center", yanchor="middle", showarrow=False,
                        font=dict(family=FONT, size=33, color="black")))
layout["annotations"] = annotations

leg_common = dict(orientation="h", bgcolor="white", bordercolor="black", borderwidth=3,
                  font=dict(family=FONT, size=34, color="black"),
                  xref="container", yref="container", xanchor="right", yanchor="top",
                  valign="middle", tracegroupgap=0)
# legend boxes (right edge, top) in reference pixels
layout["legend"] = dict(x=(1563 - OFF + 3) / W, y=1 - (23 - OFF) / H, **leg_common)
layout["legend2"] = dict(x=(1563 - OFF + 3) / W, y=1 - (1470 - OFF) / H, **leg_common)
layout["legend3"] = dict(x=(1563 - OFF + 3) / W, y=1 - (1868 - OFF) / H, **leg_common)

fig.update_layout(**layout)
fig.write_html("out.html")
